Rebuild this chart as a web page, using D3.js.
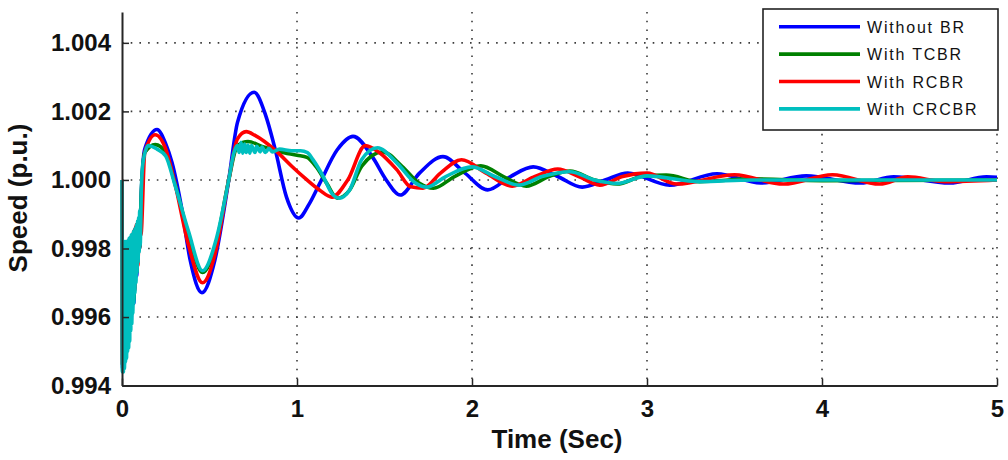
<!DOCTYPE html>
<html>
<head>
<meta charset="utf-8">
<script src="https://cdn.jsdelivr.net/npm/d3@7"></script>
<style>
  body { margin: 0; background: #fff; }
  svg text { font-family: "Liberation Sans", Arial, sans-serif; }
</style>
</head>
<body>
<div id="chart"></div>
<script>
// Chart data (time in s, speed in p.u.)
// ================================
var xTicks = [0, 1, 2, 3, 4, 5];
var yTicks = [0.994, 0.996, 0.998, 1.000, 1.002, 1.004];
var seriesNames = ["Without BR", "With TCBR", "With RCBR", "With CRCBR"];
var seriesColors = ["#0000ff", "#008000", "#ff0000", "#00bfbf"];

var withoutBR = [
  [0, 1.0], [0.003, 0.9945], [0.008, 0.998], [0.013, 0.9946], [0.018, 0.9981], [0.024, 0.9949],
  [0.03, 0.9982], [0.037, 0.9953], [0.044, 0.9983], [0.052, 0.9958], [0.06, 0.9984], [0.068, 0.9964],
  [0.076, 0.9986], [0.084, 0.9972], [0.092, 0.9988], [0.1, 0.998], [0.108, 0.9993], [0.13, 1.0009],
  [0.2, 1.00147], [0.25, 1.00105], [0.286, 1.0005],
  [0.34, 0.9992], [0.39, 0.99765], [0.457, 0.99671], [0.53, 0.99765], [0.61, 1.0], [0.66, 1.00168],
  [0.755, 1.00256], [0.82, 1.0019], [0.875, 1.0009], [0.94, 0.9995], [1.01, 0.99889], [1.07, 0.9993],
  [1.13, 0.9999], [1.23, 1.00088], [1.32, 1.00127], [1.43, 1.00068], [1.51, 1.0], [1.59, 0.99956],
  [1.7, 1.0002], [1.834, 1.00068], [1.96, 1.0002], [2.09, 0.99971], [2.22, 1.0001], [2.35, 1.00038],
  [2.49, 1.0001], [2.63, 0.99979], [2.76, 1.0], [2.89, 1.0002], [3.13, 0.99985], [3.4, 1.00018],
  [3.65, 0.99991], [3.91, 1.00012], [4.22, 0.99991], [4.41, 1.00009], [4.73, 0.99991], [4.94, 1.00009],
  [5, 1.00008]
];

var withTCBR = [
  [0, 1.0], [0.003, 0.9946], [0.008, 0.998], [0.013, 0.9947], [0.018, 0.9981], [0.024, 0.995],
  [0.03, 0.9982], [0.037, 0.9954], [0.044, 0.9983], [0.052, 0.9959], [0.06, 0.9984], [0.068, 0.9965],
  [0.076, 0.9986], [0.084, 0.9973], [0.092, 0.9988], [0.1, 0.998], [0.108, 0.9993], [0.13, 1.0008],
  [0.19, 1.00103], [0.25, 1.0008], [0.3, 0.99995],
  [0.38, 0.9984], [0.46, 0.9973], [0.54, 0.9982], [0.61, 1.0], [0.66, 1.001], [0.72, 1.00112],
  [0.8, 1.00098], [0.9, 1.00082], [1.0, 1.00072], [1.057, 1.00066], [1.11, 1.00038], [1.17, 0.9999],
  [1.23, 0.99947], [1.3, 0.9997], [1.37, 1.0004], [1.49, 1.00082], [1.6, 1.0004], [1.7, 0.9999],
  [1.78, 0.99976], [1.9, 1.0001], [2.05, 1.00041], [2.18, 1.0001], [2.31, 0.99982], [2.44, 1.0001],
  [2.56, 1.00026], [2.7, 1.0], [2.83, 0.99988], [2.97, 1.0001], [3.11, 1.00014], [3.3, 0.99995],
  [3.6, 1.00003], [4.0, 0.99998], [5, 1.0]
];

var withRCBR = [
  [0, 1.0], [0.003, 0.9946], [0.008, 0.998], [0.013, 0.9948], [0.018, 0.9981], [0.024, 0.9951],
  [0.03, 0.9955], [0.034, 0.9982], [0.04, 0.9956], [0.046, 0.9962], [0.05, 0.9983], [0.058, 0.9962],
  [0.066, 0.9985], [0.074, 0.9968], [0.082, 0.9987], [0.09, 0.9975], [0.1, 0.9989], [0.108, 0.9984],
  [0.13, 1.0008], [0.19, 1.00132], [0.25, 1.0009], [0.3, 0.99995],
  [0.38, 0.9981], [0.46, 0.997], [0.53, 0.9978], [0.61, 1.0], [0.66, 1.0012], [0.71, 1.00141],
  [0.76, 1.0013], [0.886, 1.00082], [0.97, 1.0004], [1.057, 1.0], [1.13, 0.9997], [1.2, 0.9995],
  [1.29, 1.0], [1.39, 1.001], [1.47, 1.0008], [1.57, 1.0003], [1.65, 0.9998], [1.72, 0.99976],
  [1.82, 1.0002], [1.94, 1.00059], [2.08, 1.0002], [2.23, 0.99982], [2.36, 1.0001], [2.49, 1.00032],
  [2.61, 1.0001], [2.73, 0.99985], [2.86, 1.0001], [3.0, 1.0002], [3.17, 0.99988], [3.5, 1.00015],
  [3.78, 0.99988], [4.06, 1.00015], [4.33, 0.99988], [4.49, 1.00009], [4.7, 0.99995], [5, 1.0]
];

var withCRCBR = [
  [0, 1.0], [0.002, 0.9944], [0.005, 0.9982], [0.008, 0.9944], [0.011, 0.9982], [0.014, 0.9945],
  [0.017, 0.9982], [0.02, 0.9947], [0.023, 0.9982], [0.026, 0.9948], [0.029, 0.9982], [0.032, 0.995],
  [0.035, 0.9982], [0.038, 0.9951], [0.041, 0.9983], [0.044, 0.9953], [0.047, 0.9983], [0.05, 0.9956],
  [0.053, 0.9984], [0.056, 0.9958], [0.059, 0.9984], [0.062, 0.9961], [0.065, 0.9985], [0.068, 0.9964],
  [0.071, 0.9985], [0.074, 0.9967], [0.077, 0.9986], [0.08, 0.997], [0.083, 0.9987], [0.086, 0.9973],
  [0.089, 0.9988], [0.092, 0.9976], [0.095, 0.9989], [0.098, 0.9979], [0.101, 0.9991], [0.104, 0.9981],
  [0.11, 0.9996], [0.12, 1.0005],
  [0.15, 1.001], [0.17, 1.00098], [0.2, 1.0009], [0.25, 1.0007], [0.3, 0.9999], [0.38, 0.9985],
  [0.46, 0.99735], [0.54, 0.9983], [0.61, 1.0], [0.64, 1.0008], [0.66, 1.001], [0.67, 1.0008],
  [0.68, 1.0011], [0.69, 1.00078], [0.70, 1.00105], [0.71, 1.0008], [0.72, 1.00102], [0.73, 1.00078],
  [0.74, 1.001], [0.76, 1.0008], [0.77, 1.00098], [0.79, 1.00082], [0.8, 1.00096], [0.82, 1.0008],
  [0.84, 1.00092], [0.86, 1.00082], [0.9, 1.0009], [0.97, 1.00085], [1.02, 1.00085], [1.06, 1.0008],
  [1.09, 1.0006], [1.15, 1.0001], [1.2, 0.9996], [1.24, 0.99947], [1.3, 0.9997], [1.37, 1.0006],
  [1.46, 1.00094], [1.57, 1.0005], [1.68, 0.9999], [1.74, 0.99979], [1.85, 1.0001], [2.0, 1.00038],
  [2.13, 1.0001], [2.27, 0.99985], [2.4, 1.0001], [2.56, 1.00024], [2.7, 1.0], [2.83, 0.9999],
  [3.0, 1.00012], [3.3, 0.99995], [3.6, 1.0], [5, 1.0]
];

var allSeries = [withoutBR, withTCBR, withRCBR, withCRCBR];

// Set up chart
// ================================
var svgWidth = 1008;
var svgHeight = 460;
var margin = { top: 12, right: 11, bottom: 74.4, left: 122 };
var width = svgWidth - margin.left - margin.right;
var height = svgHeight - margin.top - margin.bottom;

var svg = d3.select("#chart")
  .append("svg")
  .attr("width", svgWidth)
  .attr("height", svgHeight);

var chartGroup = svg.append("g")
  .attr("transform", `translate(${margin.left}, ${margin.top})`);

var xScale = d3.scaleLinear().domain([0, 5]).range([0, width]);
var yScale = d3.scaleLinear().domain([0.994, 1.0049]).range([height, 0]);

// dotted grid
chartGroup.append("g")
  .selectAll("line.vgrid")
  .data(xTicks.slice(1))
  .enter()
  .append("line")
  .attr("x1", d => xScale(d))
  .attr("x2", d => xScale(d))
  .attr("y1", 0)
  .attr("y2", height)
  .attr("stroke", "#3a3a3a")
  .attr("stroke-width", 1.6)
  .attr("stroke-dasharray", "1.6,7.1");

chartGroup.append("g")
  .selectAll("line.hgrid")
  .data(yTicks.slice(1))
  .enter()
  .append("line")
  .attr("x1", 0)
  .attr("x2", width)
  .attr("y1", d => yScale(d))
  .attr("y2", d => yScale(d))
  .attr("stroke", "#3a3a3a")
  .attr("stroke-width", 1.6)
  .attr("stroke-dasharray", "1.6,7.1");

// curves
var line = d3.line()
  .x(d => xScale(d[0]))
  .y(d => yScale(d[1]))
  .curve(d3.curveMonotoneX);

chartGroup.selectAll("path.series")
  .data(allSeries)
  .enter()
  .append("path")
  .attr("class", "series")
  .attr("d", line)
  .attr("fill", "none")
  .attr("stroke", (d, i) => seriesColors[i])
  .attr("stroke-width", 3.6)
  .attr("stroke-linejoin", "round");

// axes (ticks inward)
var bottomAxis = d3.axisBottom(xScale).tickValues(xTicks).tickSizeInner(-7).tickSizeOuter(0)
  .tickPadding(14).tickFormat(d3.format("d"));
var leftAxis = d3.axisLeft(yScale).tickValues(yTicks).tickSizeInner(-7).tickSizeOuter(0)
  .tickPadding(11).tickFormat(d3.format(".3f"));

var xAxisG = chartGroup.append("g")
  .attr("transform", `translate(0, ${height})`)
  .call(bottomAxis);

var yAxisG = chartGroup.append("g")
  .call(leftAxis);

[xAxisG, yAxisG].forEach(function (g) {
  g.select(".domain").attr("stroke", "#262626").attr("stroke-width", 2);
  g.selectAll(".tick line").attr("stroke", "#262626").attr("stroke-width", 1.5);
  g.selectAll(".tick text")
    .attr("fill", "#111")
    .style("font-size", "24px")
    .style("font-weight", "bold");
});

// axis titles
svg.append("text")
  .attr("x", 557)
  .attr("y", 448)
  .attr("text-anchor", "middle")
  .style("font-size", "26px")
  .style("font-weight", "bold")
  .attr("fill", "#111")
  .text("Time (Sec)");

svg.append("text")
  .attr("transform", "translate(27, 198) rotate(-90)")
  .attr("text-anchor", "middle")
  .style("font-size", "26px")
  .style("font-weight", "bold")
  .attr("fill", "#111")
  .text("Speed (p.u.)");

// legend
var legend = svg.append("g");
legend.append("rect")
  .attr("x", 763)
  .attr("y", 9)
  .attr("width", 235)
  .attr("height", 121)
  .attr("fill", "#fff")
  .attr("stroke", "#222")
  .attr("stroke-width", 1.6);

var legendRows = legend.selectAll("g.row")
  .data(seriesNames)
  .enter()
  .append("g")
  .attr("transform", (d, i) => `translate(0, ${26.7 + i * 27.4})`);

legendRows.append("line")
  .attr("x1", 779)
  .attr("x2", 860)
  .attr("y1", 0)
  .attr("y2", 0)
  .attr("stroke", (d, i) => seriesColors[i])
  .attr("stroke-width", 3.6);

legendRows.append("text")
  .attr("x", 867)
  .attr("y", 6)
  .style("font-size", "16px")
  .style("letter-spacing", "1.8px")
  .attr("fill", "#111")
  .text(d => d);
</script>
</body>
</html>
